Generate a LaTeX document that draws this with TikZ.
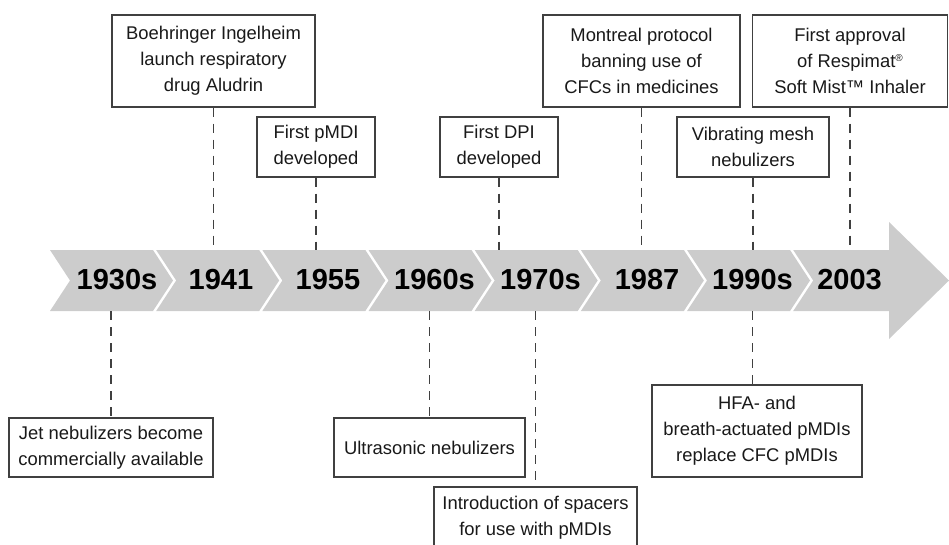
\documentclass[tikz,border=0pt]{standalone}
\usepackage{fontspec}
\setmainfont{Liberation Sans}
\begin{document}
\begin{tikzpicture}[x=1pt,y=-1pt,
  evbox/.style={draw=black!75, line width=1.1pt, fill=white, inner sep=0pt, align=center,
    text=black!90, font=\fontsize{18.4}{26}\selectfont},
  yearlbl/.style={font=\bfseries\fontsize{29}{29}\selectfont, text=black, inner sep=0pt},
  guide/.style={draw=black!75, line width=1.1pt, dash pattern=on 9pt off 7pt},
  band/.style={fill=black!20, draw=none}]
\useasboundingbox (0,0) rectangle (949,544);
% chevrons
\foreach \i in {0,...,6}{
  \pgfmathsetmacro{\L}{50+106.17*\i}
  \pgfmathsetmacro{\R}{\L+103}
  \fill[black!20] (\L,250) -- (\R,250) -- (\R+20,280.5) -- (\R,311) -- (\L,311) -- (\L+20,280.5) -- cycle;
}
\fill[black!20] (793.2,250) -- (889,250) -- (889,222) -- (949,280.5) -- (889,339) -- (889,311) -- (793.2,311) -- (813.2,280.5) -- cycle;
% year labels
\node[yearlbl] (y1930) at (117,280) {1930s};
\node[yearlbl] (y1941) at (221,280) {1941};
\node[yearlbl] (y1955) at (328,280) {1955};
\node[yearlbl] (y1960) at (434.5,280) {1960s};
\node[yearlbl] (y1970) at (540.5,280) {1970s};
\node[yearlbl] (y1987) at (647,280) {1987};
\node[yearlbl] (y1990) at (752.5,280) {1990s};
\node[yearlbl] (y2003) at (849.5,280) {2003};
% anchor points on band
\coordinate (t1941) at (213.5,250);
\coordinate (t1955) at (316,250);
\coordinate (t1970) at (499,250);
\coordinate (t1987) at (641.5,250);
\coordinate (t1990) at (753,250);
\coordinate (t2003) at (850,250);
\coordinate (b1930) at (111,311);
\coordinate (b1960) at (429.5,311);
\coordinate (b1970) at (535.5,311);
\coordinate (b1990) at (752.5,311);
% boxes
\node[evbox, minimum width=203pt, minimum height=92pt] (boeh) at (213.5,61) {Boehringer Ingelheim\\launch respiratory\\drug Aludrin};
\node[evbox, minimum width=118pt, minimum height=60pt] (pmdi) at (316,147) {First pMDI\\developed};
\node[evbox, minimum width=118pt, minimum height=60pt] (dpi) at (499,147) {First DPI\\developed};
\node[evbox, minimum width=197pt, minimum height=92pt] (mont) at (641.5,61) {Montreal protocol\\banning use of\\CFCs in medicines};
\node[evbox, minimum width=152pt, minimum height=60pt] (vib) at (753,147) {Vibrating mesh\\nebulizers};
\node[evbox, minimum width=195pt, minimum height=92pt] (appr) at (850,61) {First approval\\of Respimat{\fontsize{10}{10}\selectfont\raisebox{6.5pt}{®}}\\Soft Mist™ Inhaler};
\node[evbox, minimum width=204pt, minimum height=59pt] (jet) at (111,447.5) {Jet nebulizers become\\commercially available};
\node[evbox, minimum width=191pt, minimum height=59pt] (ultra) at (429.5,447.5) {Ultrasonic nebulizers};
\node[evbox, minimum width=203pt, minimum height=61pt] (spac) at (535.5,517.5) {Introduction of spacers\\for use with pMDIs};
\node[evbox, minimum width=210pt, minimum height=92pt] (hfa) at (757,431) {HFA- and\\breath-actuated pMDIs\\replace CFC pMDIs};
% guide lines
\draw[guide] (boeh.south) -- (t1941);
\draw[guide] (pmdi.south) -- (t1955);
\draw[guide] (dpi.south) -- (t1970);
\draw[guide] (mont.south) -- (t1987);
\draw[guide] (vib.south) -- (t1990);
\draw[guide] (appr.south) -- (t2003);
\draw[guide] (b1930) -- (jet.north);
\draw[guide] (b1960) -- (ultra.north);
\draw[guide] (b1970) -- (spac.north);
\draw[guide] (b1990) -- (b1990 |- hfa.north);
\end{tikzpicture}
\end{document}
